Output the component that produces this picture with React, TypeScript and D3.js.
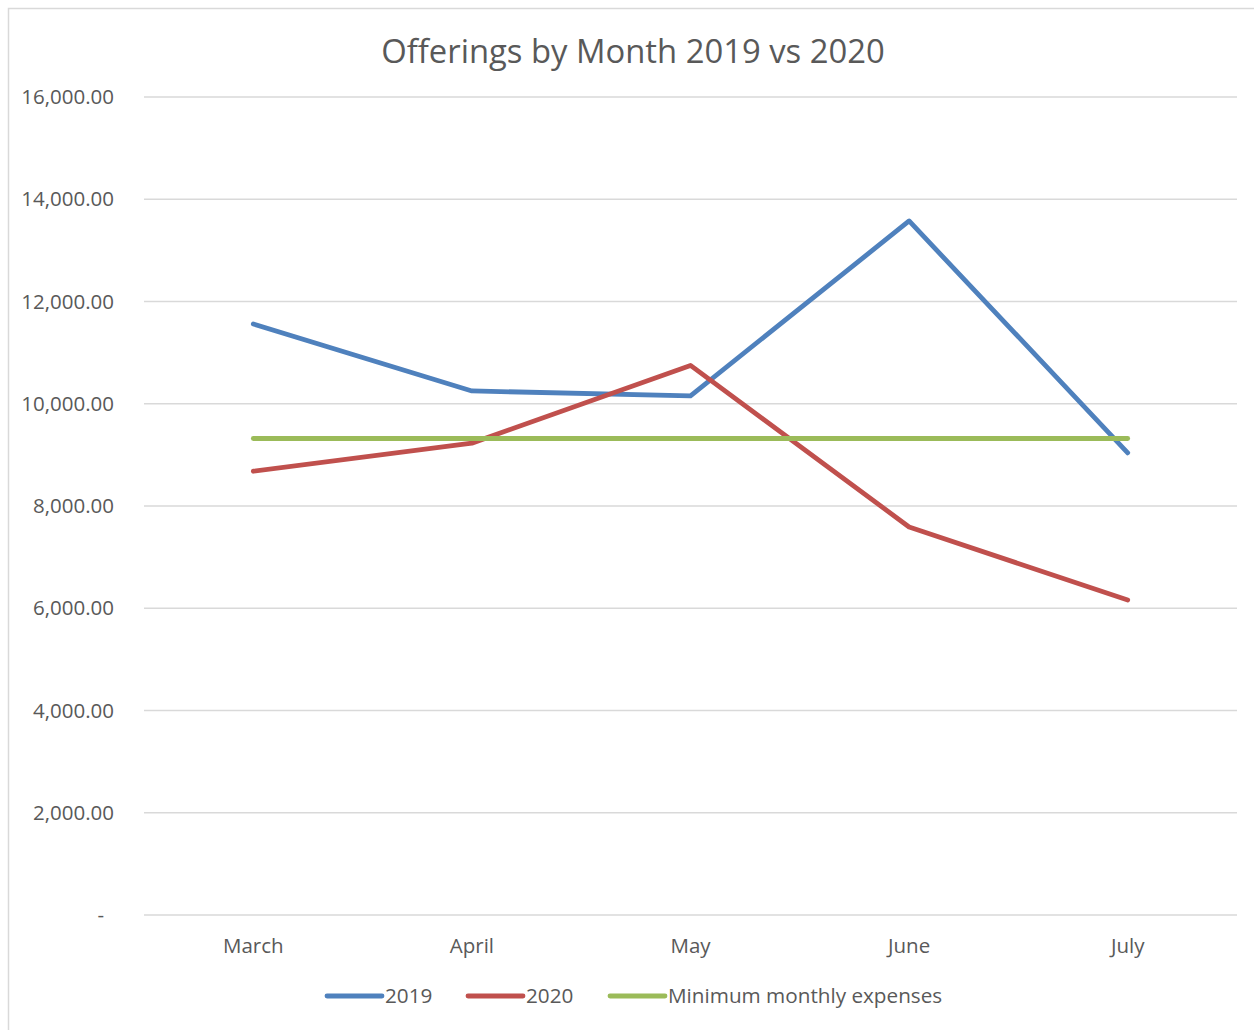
import React from 'react';
import * as d3 from 'd3';

const months = ['March', 'April', 'May', 'June', 'July'];
const offerings2019 = [11560, 10250, 10155, 13575, 9040];
const offerings2020 = [8680, 9230, 10750, 7590, 6160];
const minExpenses = [9320, 9320, 9320, 9320, 9320];
const yTicks = [0, 2000, 4000, 6000, 8000, 10000, 12000, 14000, 16000];

const series = [
  { name: '2019', values: offerings2019, color: '#4f81bd' },
  { name: '2020', values: offerings2020, color: '#c0504d' },
  { name: 'Minimum monthly expenses', values: minExpenses, color: '#9bbb59' },
];

const W = 1254;
const H = 1030;
const font = '"Open Sans", sans-serif';
const textColor = '#595959';

const App = () => {
  const x = d3.scaleBand<string>().domain(months).range([144, 1237]);
  const y = d3.scaleLinear().domain([0, 16000]).range([915, 97]);
  const fmt = d3.format(',.2f');

  const line = d3
    .line<number>()
    .x((_, i) => (x(months[i]) ?? 0) + x.bandwidth() / 2)
    .y((d) => y(d));

  // legend entries: swatch start x
  const legendX = [327, 468, 610];

  return (
    <svg
      width={W}
      height={H}
      style={{ position: 'absolute', left: 0, top: 0 }}
      fontFamily={font}
    >
      <rect x={0} y={0} width={W} height={H} fill="#ffffff" />
      {/* chart border (right/bottom edges fall off the page) */}
      <rect x={8.5} y={8.5} width={W + 20} height={H + 20} fill="none" stroke="#d9d9d9" strokeWidth={1.5} />

      <text x={633} y={63} textAnchor="middle" fontSize={32.8} fill={textColor}>
        Offerings by Month 2019 vs 2020
      </text>

      {/* gridlines + y labels */}
      {yTicks.map((t) => (
        <g key={t}>
          <line x1={144} x2={1237} y1={y(t)} y2={y(t)} stroke="#d9d9d9" strokeWidth={1.4} />
          <text x={t === 0 ? 104 : 114} y={y(t) + 7} textAnchor="end" fontSize={20.5} fill={textColor}>
            {t === 0 ? '-' : fmt(t)}
          </text>
        </g>
      ))}

      {/* x labels */}
      {months.map((m) => (
        <text
          key={m}
          x={(x(m) ?? 0) + x.bandwidth() / 2}
          y={953}
          textAnchor="middle"
          fontSize={20.5}
          fill={textColor}
        >
          {m}
        </text>
      ))}

      {/* series */}
      {series.map((s) => (
        <path
          key={s.name}
          d={line(s.values) || ''}
          fill="none"
          stroke={s.color}
          strokeWidth={4.8}
          strokeLinecap="round"
          strokeLinejoin="round"
        />
      ))}

      {/* legend */}
      {series.map((s, i) => (
        <g key={s.name}>
          <line
            x1={legendX[i]}
            x2={legendX[i] + 55}
            y1={996}
            y2={996}
            stroke={s.color}
            strokeWidth={4.8}
            strokeLinecap="round"
          />
          <text x={legendX[i] + 58} y={1003} fontSize={20.7} fill={textColor}>
            {s.name}
          </text>
        </g>
      ))}
    </svg>
  );
};

export default App;
